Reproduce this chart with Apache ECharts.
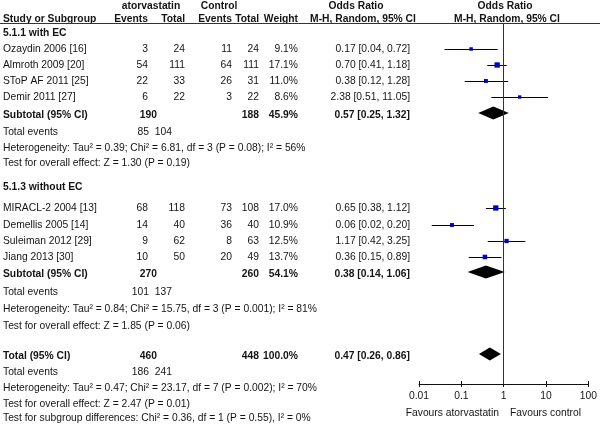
<!DOCTYPE html>
<html>
<head>
<meta charset="utf-8">
<script src="https://cdn.jsdelivr.net/npm/echarts@6/dist/echarts.min.js"></script>
<style>html,body{margin:0;padding:0;background:#fff}#c{width:600px;height:427px}</style>
</head>
<body>
<div id="c"></div>
<script>
// ---------- DATA ----------
const group1Label = "5.1.1 with EC";
const group1Studies = ["Ozaydin 2006 [16]", "Almroth 2009 [20]", "SToP AF 2011 [25]", "Demir 2011 [27]"];
const group1AtorEvents = [3, 54, 22, 6];
const group1AtorTotal = [24, 111, 33, 22];
const group1CtrlEvents = [11, 64, 26, 3];
const group1CtrlTotal = [24, 111, 31, 22];
const group1Weight = [9.1, 17.1, 11.0, 8.6];
const group1OR = [0.17, 0.70, 0.38, 2.38];
const group1Lo = [0.04, 0.41, 0.12, 0.51];
const group1Hi = [0.72, 1.18, 1.28, 11.05];
const group1Subtotal = { or: 0.57, lo: 0.25, hi: 1.32, atorTotal: 190, ctrlTotal: 188, weight: 45.9, atorEvents: 85, ctrlEvents: 104 };
const group1Het = "Heterogeneity: Tau\u00b2 = 0.39; Chi\u00b2 = 6.81, df = 3 (P = 0.08); I\u00b2 = 56%";
const group1Test = "Test for overall effect: Z = 1.30 (P = 0.19)";

const group2Label = "5.1.3 without EC";
const group2Studies = ["MIRACL-2 2004 [13]", "Demellis 2005 [14]", "Suleiman 2012 [29]", "Jiang 2013 [30]"];
const group2AtorEvents = [68, 14, 9, 10];
const group2AtorTotal = [118, 40, 62, 50];
const group2CtrlEvents = [73, 36, 8, 20];
const group2CtrlTotal = [108, 40, 63, 49];
const group2Weight = [17.0, 10.9, 12.5, 13.7];
const group2OR = [0.65, 0.06, 1.17, 0.36];
const group2Lo = [0.38, 0.02, 0.42, 0.15];
const group2Hi = [1.12, 0.20, 3.25, 0.89];
const group2Subtotal = { or: 0.38, lo: 0.14, hi: 1.06, atorTotal: 270, ctrlTotal: 260, weight: 54.1, atorEvents: 101, ctrlEvents: 137 };
const group2Het = "Heterogeneity: Tau\u00b2 = 0.84; Chi\u00b2 = 15.75, df = 3 (P = 0.001); I\u00b2 = 81%";
const group2Test = "Test for overall effect: Z = 1.85 (P = 0.06)";

const overall = { or: 0.47, lo: 0.26, hi: 0.86, atorTotal: 460, ctrlTotal: 448, weight: 100.0, atorEvents: 186, ctrlEvents: 241 };
const overallHet = "Heterogeneity: Tau\u00b2 = 0.47; Chi\u00b2 = 23.17, df = 7 (P = 0.002); I\u00b2 = 70%";
const overallTest = "Test for overall effect: Z = 2.47 (P = 0.01)";
const subgroupTest = "Test for subgroup differences: Chi\u00b2 = 0.36, df = 1 (P = 0.55), I\u00b2 = 0%";

const tickValues = [0.01, 0.1, 1, 10, 100];
const tickLabels = ["0.01", "0.1", "1", "10", "100"];
const favoursLeft = "Favours atorvastatin";
const favoursRight = "Favours control";

// ---------- LAYOUT (pixel rows, not data) ----------
const L = {
  h1: 6, h2: 19, rule: 23,
  g1: 33, g1rows: [49, 65, 81, 97], g1sub: 115, g1ev: 132, g1het: 148, g1test: 163,
  g2: 187, g2rows: [208, 225, 241, 257], g2sub: 274, g2ev: 292, g2het: 309, g2test: 326,
  tot: 356, totev: 372, tothet: 388, tottest: 404, subtest: 418,
  axisY: 384,
  xName: 3, xAE: 148, xAT: 185, xCE: 232, xCT: 259, xW: 298, xOR: 410,
  xEvA: 149, xEvC: 172, xSubA: 157,
  plotLeft: 419, plotRight: 590
};
const FONT = "'Liberation Sans', Arial, Helvetica, sans-serif";
const FS = '10.3px ';
const COLOR = "#141414";

const texts = [];
function t(str, x, y, align, bold) {
  texts.push({
    type: 'text', silent: true,
    style: {
      text: String(str), x: x, y: y,
      textAlign: align || 'left', textVerticalAlign: 'middle',
      align: align || 'left', verticalAlign: 'middle',
      font: (bold ? 'bold ' : '') + FS + FONT, fill: COLOR
    }
  });
}
const fmt = v => v.toFixed(2);
const ciText = (o, l, h) => fmt(o) + ' [' + fmt(l) + ', ' + fmt(h) + ']';

// Headers
t("atorvastatin", 151, L.h1, 'center', true);
t("Control", 219, L.h1, 'center', true);
t("Odds Ratio", 356, L.h1, 'center', true);
t("Odds Ratio", 505, L.h1, 'center', true);
t("Study or Subgroup", L.xName, L.h2, 'left', true);
t("Events", L.xAE, L.h2, 'right', true);
t("Total", L.xAT, L.h2, 'right', true);
t("Events", L.xCE, L.h2, 'right', true);
t("Total", L.xCT, L.h2, 'right', true);
t("Weight", L.xW, L.h2, 'right', true);
t("M-H, Random, 95% CI", 363, L.h2, 'center', true);
t("M-H, Random, 95% CI", 507, L.h2, 'center', true);

function groupText(label, studies, ae, at, ce, ct, w, or, lo, hi, sub, het, test, Y) {
  t(label, L.xName, Y.label, 'left', true);
  studies.forEach((s, i) => {
    const y = Y.rows[i];
    t(s, L.xName, y);
    t(ae[i], L.xAE, y, 'right');
    t(at[i], L.xAT, y, 'right');
    t(ce[i], L.xCE, y, 'right');
    t(ct[i], L.xCT, y, 'right');
    t(w[i].toFixed(1) + '%', L.xW, y, 'right');
    t(ciText(or[i], lo[i], hi[i]), L.xOR, y, 'right');
  });
  t("Subtotal (95% CI)", L.xName, Y.sub, 'left', true);
  t(sub.atorTotal, L.xSubA, Y.sub, 'right', true);
  t(sub.ctrlTotal, L.xCT, Y.sub, 'right', true);
  t(sub.weight.toFixed(1) + '%', L.xW, Y.sub, 'right', true);
  t(ciText(sub.or, sub.lo, sub.hi), L.xOR, Y.sub, 'right', true);
  t("Total events", L.xName, Y.ev);
  t(sub.atorEvents, L.xEvA, Y.ev, 'right');
  t(sub.ctrlEvents, L.xEvC, Y.ev, 'right');
  t(het, L.xName, Y.het);
  t(test, L.xName, Y.test);
}
groupText(group1Label, group1Studies, group1AtorEvents, group1AtorTotal, group1CtrlEvents, group1CtrlTotal,
  group1Weight, group1OR, group1Lo, group1Hi, group1Subtotal, group1Het, group1Test,
  { label: L.g1, rows: L.g1rows, sub: L.g1sub, ev: L.g1ev, het: L.g1het, test: L.g1test });
groupText(group2Label, group2Studies, group2AtorEvents, group2AtorTotal, group2CtrlEvents, group2CtrlTotal,
  group2Weight, group2OR, group2Lo, group2Hi, group2Subtotal, group2Het, group2Test,
  { label: L.g2, rows: L.g2rows, sub: L.g2sub, ev: L.g2ev, het: L.g2het, test: L.g2test });

t("Total (95% CI)", L.xName, L.tot, 'left', true);
t(overall.atorTotal, L.xSubA, L.tot, 'right', true);
t(overall.ctrlTotal, L.xCT, L.tot, 'right', true);
t(overall.weight.toFixed(1) + '%', L.xW, L.tot, 'right', true);
t(ciText(overall.or, overall.lo, overall.hi), L.xOR, L.tot, 'right', true);
t("Total events", L.xName, L.totev);
t(overall.atorEvents, L.xEvA, L.totev, 'right');
t(overall.ctrlEvents, L.xEvC, L.totev, 'right');
t(overallHet, L.xName, L.tothet);
t(overallTest, L.xName, L.tottest);
t(subgroupTest, L.xName, L.subtest);

t(favoursLeft, 499, 413, 'right');
t(favoursRight, 510, 413, 'left');

texts.push({
  type: 'line', silent: true,
  shape: { x1: 0, y1: L.rule + 0.5, x2: 600, y2: L.rule + 0.5 },
  style: { stroke: '#333', lineWidth: 1 }
});

// ---------- marks ----------
const studyData = [];
group1Studies.forEach((s, i) => studyData.push([group1OR[i], L.g1rows[i], group1Lo[i], group1Hi[i], group1Weight[i]]));
group2Studies.forEach((s, i) => studyData.push([group2OR[i], L.g2rows[i], group2Lo[i], group2Hi[i], group2Weight[i]]));
const diamondData = [
  [group1Subtotal.or, L.g1sub - 2, group1Subtotal.lo, group1Subtotal.hi],
  [group2Subtotal.or, L.g2sub - 2, group2Subtotal.lo, group2Subtotal.hi],
  [overall.or, L.tot - 2, overall.lo, overall.hi]
];

const chart = echarts.init(document.getElementById('c'), null, { renderer: 'canvas' });
const xCommon = {
  type: 'log', logBase: 10, min: 0.01, max: 100, splitNumber: 4,
  splitLine: { show: false }
};
chart.setOption({
  animation: false,
  backgroundColor: '#fff',
  grid: { left: L.plotLeft, width: L.plotRight - L.plotLeft, top: L.rule, height: L.axisY - L.rule, containLabel: false },
  xAxis: [
    Object.assign({}, xCommon, {
      position: 'bottom',
      axisLine: { show: true, lineStyle: { color: '#111', width: 1 } },
      axisTick: { show: true, inside: false, length: 3, lineStyle: { color: '#111' } },
      axisLabel: {
        show: true, margin: 7, color: COLOR, fontSize: 10.3, fontFamily: FONT,
        formatter: v => {
          const k = tickValues.findIndex(tv => Math.abs(Math.log10(tv) - Math.log10(v)) < 1e-6);
          return k >= 0 ? tickLabels[k] : '';
        }
      }
    }),
    Object.assign({}, xCommon, {
      position: 'bottom',
      axisLine: { show: false },
      axisTick: { show: true, inside: true, length: 3, lineStyle: { color: '#111' } },
      axisLabel: { show: false }
    })
  ],
  yAxis: {
    type: 'value', min: L.rule, max: L.axisY, inverse: true, show: false
  },
  series: [
    {
      type: 'custom', xAxisIndex: 0, yAxisIndex: 0, silent: true,
      data: studyData,
      renderItem: function (params, api) {
        const c = api.coord([api.value(0), api.value(1)]);
        const a = api.coord([api.value(2), api.value(1)]);
        const b = api.coord([api.value(3), api.value(1)]);
        const s = 1.4 + api.value(4) * 0.23;
        const y = Math.round(c[1]) + 0.5;
        return {
          type: 'group',
          children: [
            { type: 'line', shape: { x1: a[0], y1: y, x2: b[0], y2: y }, style: { stroke: '#000', lineWidth: 1 } },
            { type: 'rect', shape: { x: c[0] - s / 2, y: c[1] - s / 2, width: s, height: s }, style: { fill: '#0000cc' } }
          ]
        };
      },
      markLine: {
        silent: true, symbol: 'none', label: { show: false },
        lineStyle: { color: '#333', width: 1, type: 'solid' },
        data: [{ xAxis: 1 }]
      },
      z: 3
    },
    {
      type: 'custom', xAxisIndex: 0, yAxisIndex: 0, silent: true,
      data: diamondData,
      renderItem: function (params, api) {
        const c = api.coord([api.value(0), api.value(1)]);
        const a = api.coord([api.value(2), api.value(1)]);
        const b = api.coord([api.value(3), api.value(1)]);
        const h = 6.5;
        return {
          type: 'polygon',
          shape: { points: [[a[0], c[1]], [c[0], c[1] - h], [b[0], c[1]], [c[0], c[1] + h]] },
          style: { fill: '#000' }
        };
      },
      z: 4
    }
  ],
  graphic: texts
});
</script>
</body>
</html>
